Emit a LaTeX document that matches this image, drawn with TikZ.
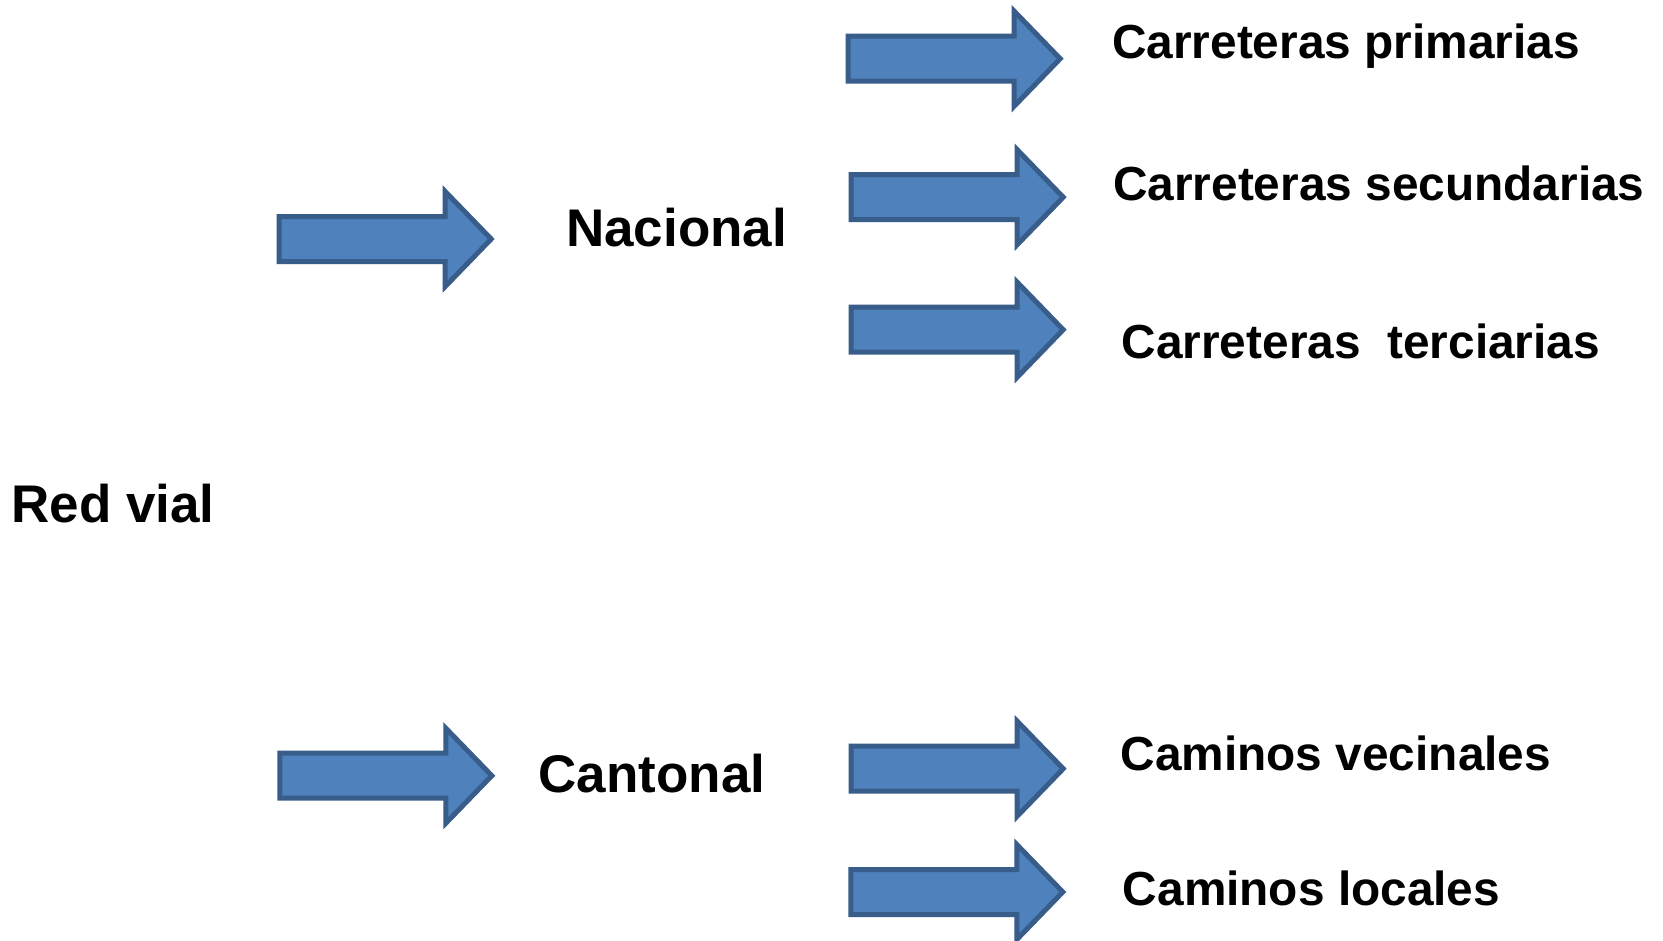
\documentclass[tikz,border=0pt]{standalone}
\usepackage{fontspec}
\setmainfont{Liberation Sans}
\definecolor{arrowfill}{HTML}{4F81BD}
\definecolor{arrowline}{HTML}{385D8A}
\tikzset{
  arrowstyle/.style={fill=arrowfill, draw=arrowline, line width=5pt, line join=miter, miter limit=10},
  blockarrow/.pic={\path[arrowstyle] (2.5,-22.5) -- (168.5,-22.5) -- (168.5,-47.5) -- (214.5,0) -- (168.5,47.5) -- (168.5,22.5) -- (2.5,22.5) -- cycle;},
  bigtext/.style={anchor=base west, inner sep=0pt, font=\bfseries\fontsize{53}{60}\selectfont},
  smalltext/.style={anchor=base west, inner sep=0pt, font=\bfseries\fontsize{47.8}{55}\selectfont}
}
\begin{document}
\begin{tikzpicture}[x=1pt,y=-1pt]
\useasboundingbox[fill=white] (0,0) rectangle (1663,940);
% block arrows
\pic (arrA) at (276.7,239) {blockarrow};
\pic (arrB) at (277.3,775.7) {blockarrow};
\pic (arrR1) at (845.7,58.7) {blockarrow};
\pic (arrR2) at (848.7,197.2) {blockarrow};
\pic (arrR3) at (848.7,329.7) {blockarrow};
\pic (arrR4) at (848.7,768.7) {blockarrow};
\pic (arrR5) at (848.3,892) {blockarrow};
% texts
\node[bigtext] (red) at (11.2,522.7) {Red vial};
\node[bigtext] (nacional) at (566,246) {Nacional};
\node[bigtext] (cantonal) at (538.4,792.7) {Cantonal};
\node[smalltext] (prim) at (1112,58) {Carreteras primarias};
\node[smalltext] (secu) at (1113,200.5) {Carreteras secundarias};
\node[smalltext] (terc) at (1121.5,358) {Carreteras~~terciarias};
\node[smalltext] (veci) at (1120.5,770) {Caminos vecinales};
\node[smalltext] (loca) at (1122.7,905) {Caminos locales};
\end{tikzpicture}
\end{document}
